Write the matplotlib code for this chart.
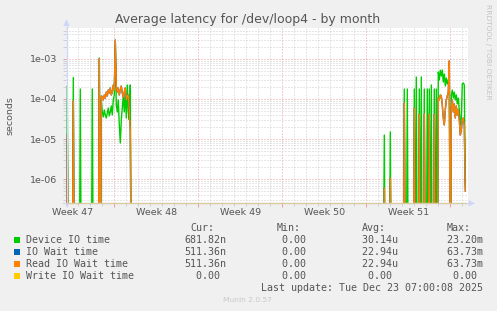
import numpy as np
import matplotlib
matplotlib.use('Agg')
import matplotlib.pyplot as plt
from matplotlib.patches import Polygon
from matplotlib.lines import Line2D
from matplotlib.transforms import blended_transform_factory
from matplotlib.ticker import FixedLocator, NullFormatter

W, H = 497, 311

# time axis: hours since Mon 2025-11-17 00:00 (start of ISO week 47), 2h samples
x_range = (71.4, 875.4)
week_starts = [168, 336, 504, 672, 840]
week_labels = ['Week 47', 'Week 48', 'Week 49', 'Week 50', 'Week 51']
week_label_hours = [84, 252, 420, 588, 756]

# isolated spikes (sample hour, device io time [s], read io wait [s])
spike_hours = [74, 86, 100, 124, 138, 708, 720, 748, 754, 768, 772, 778, 782,
               788, 794, 798, 802, 808, 812]
spike_device = [2.1e-4, 3.4e-4, 1.76e-4, 1.76e-4, 1.04e-3, 1.26e-5, 1.5e-5,
                1.76e-4, 1.76e-4, 1.76e-4, 3.5e-4, 1.76e-4, 3.5e-4, 1.76e-4,
                1.76e-4, 1.76e-4, 2.22e-4, 1.76e-4, 1.76e-4]
spike_read = [1.3e-5, 8.9e-5, 0, 0, 1.0e-3, 6.1e-7, 1.08e-6, 7.9e-5, 0,
              5.9e-5, 0, 4.2e-5, 0, 4.2e-5, 0, 4.2e-5, 0, 4.2e-5, 0]

# continuous block in week 47/48
left_start = 142
device_left = [9.4e-5, 4.72e-5, 3.55e-5, 5.3e-5, 3.97e-5, 3.35e-5, 4.46e-5,
               5.94e-5, 3.76e-5, 4.72e-5, 6.65e-5, 3.97e-5, 9.4e-5, 1.25e-4,
               2.2e-3, 7.05e-5, 4.72e-5, 9.4e-5, 2.24e-5, 8.0e-6, 2.99e-5,
               5.94e-5, 1.25e-4, 4.72e-5, 1.66e-4, 3.35e-5, 2.22e-4, 4.72e-5,
               2.99e-5, 2.22e-4]
read_left = [1.18e-4, 1.11e-4, 9.4e-5, 1.25e-4, 1.05e-4, 1.48e-4, 1.18e-4,
             1.66e-4, 1.40e-4, 1.87e-4, 1.25e-4, 1.48e-4, 2.22e-4, 1.66e-4,
             2.92e-3, 2.09e-4, 1.48e-4, 1.87e-4, 1.25e-4, 1.66e-4, 2.09e-4,
             1.40e-4, 1.11e-4, 1.48e-4, 1.87e-4, 9.4e-5, 1.18e-4, 1.25e-4,
             5.3e-5, 1.59e-5]

# continuous block in week 51/52 (runs to the last update)
right_start = 816
device_right = [4.67e-4, 2.95e-4, 5.2e-4, 3.71e-4, 5.2e-4, 2.63e-4, 4.16e-4,
                2.09e-4, 3.31e-4, 2.35e-4, 2.95e-4, 3.71e-4, 0, 1.25e-4,
                1.66e-4, 1.05e-4, 1.48e-4, 9.4e-5, 1.25e-4, 7.5e-5, 1.05e-4,
                5.3e-5, 2.24e-5, 3.35e-5, 2.35e-4, 2.49e-4, 2.22e-4, 6.8182e-7]
read_right = [1.05e-4, 9.4e-5, 1.25e-4, 1.18e-4, 7.05e-5, 3.35e-5, 2.24e-5,
              5.3e-5, 9.4e-5, 1.18e-4, 1.48e-4, 8.8e-4, 0, 5.94e-5, 9.4e-5,
              4.72e-5, 7.5e-5, 3.35e-5, 6.65e-5, 3.97e-5, 5.3e-5, 2.99e-5,
              1.26e-5, 1.68e-5, 2.99e-5, 3.35e-5, 2.24e-5, 5.1136e-7]

legend_names = ['Device IO time', 'IO Wait time', 'Read IO Wait time', 'Write IO Wait time']
legend_colors = ['#00CC00', '#0066B3', '#FF8000', '#FFCC00']
cur_vals = ['681.82n', '511.36n', '511.36n', '  0.00 ']
min_vals = ['  0.00 ', '  0.00 ', '  0.00 ', '  0.00 ']
avg_vals = [' 30.14u', ' 22.94u', ' 22.94u', '  0.00 ']
max_vals = [' 23.20m', ' 63.73m', ' 63.73m', '  0.00 ']

y_ticks = [1e-6, 1e-5, 1e-4, 1e-3]
y_ticklabels = ['1e-06', '1e-05', '1e-04', '1e-03']
y_range = (2.57e-7, 5.8e-3)

# ---- assemble the samples (zeros around the bursts)
pts = {}
for h in spike_hours:
    pts.setdefault(h - 2, (0, 0))
    pts.setdefault(h + 2, (0, 0))
pts.setdefault(left_start - 2, (0, 0))
pts.setdefault(left_start + 2 * len(device_left), (0, 0))
pts.setdefault(right_start - 2, (0, 0))
for h, d, r in zip(spike_hours, spike_device, spike_read):
    pts[h] = (d, r)
for i, (d, r) in enumerate(zip(device_left, read_left)):
    pts[left_start + 2 * i] = (d, r)
for i, (d, r) in enumerate(zip(device_right, read_right)):
    pts[right_start + 2 * i] = (d, r)

t = np.array(sorted(pts))
device = np.array([pts[h][0] for h in t])
read = np.array([pts[h][1] for h in t])
io_wait = read.copy()
floor = 1e-9
clip = lambda v: np.where(v > 0, v, floor)


def fx(x):
    return x / W


def fy(y):
    return 1 - y / H


fig = plt.figure(figsize=(W / 100, H / 100), dpi=100, facecolor='#F0F0F0')
ax = fig.add_axes([fx(66), fy(203), (468 - 66) / W, (203 - 28) / H])
ax.set_facecolor('white')
ax.set_yscale('log')
ax.set_xlim(*x_range)
ax.set_ylim(*y_range)
for s in ax.spines.values():
    s.set_visible(False)

grid_minor = '#cfcfcf'
grid_major = '#eb9a9a'
dash = (0, (1, 2))
for h in range(72, 876, 24):
    if h not in week_starts:
        ax.axvline(h, color=grid_minor, lw=0.72, ls=dash, zorder=1)
for h in week_starts:
    ax.axvline(h, color=grid_major, lw=0.72, ls=dash, zorder=1)
minor_y = [k * 10.0 ** e for e in range(-7, -2) for k in range(2, 10)]
minor_y = [v for v in minor_y if y_range[0] < v < y_range[1]]
for v in minor_y:
    ax.axhline(v, color=grid_minor, lw=0.72, ls=dash, zorder=1)
for v in y_ticks:
    ax.axhline(v, color=grid_major, lw=0.72, ls=dash, zorder=1)

ax.plot(t, clip(device), color=legend_colors[0], lw=1.0, zorder=3)
ax.plot(t, clip(io_wait), color=legend_colors[1], lw=1.0, zorder=4)
ax.plot(t, clip(read), color=legend_colors[2], lw=1.0, zorder=5)

# ticks
ax.yaxis.set_major_locator(FixedLocator(y_ticks))
ax.set_yticklabels(y_ticklabels)
ax.yaxis.set_minor_locator(FixedLocator(minor_y))
ax.yaxis.set_minor_formatter(NullFormatter())
ax.tick_params(axis='y', which='major', length=2, width=0.7, color=grid_major,
               labelsize=6.8, labelcolor='#555555', pad=4)
ax.tick_params(axis='y', which='minor', length=2, width=0.7, color=grid_minor)
ax.xaxis.set_major_locator(FixedLocator(week_starts))
ax.xaxis.set_minor_locator(FixedLocator(list(range(72, 876, 24))))
ax.xaxis.set_major_formatter(NullFormatter())
ax.tick_params(axis='x', which='major', length=3, width=0.7, color=grid_major)
ax.tick_params(axis='x', which='minor', length=2, width=0.7, color=grid_minor)

trans = blended_transform_factory(ax.transData, ax.transAxes)
for h, lab in zip(week_label_hours, week_labels):
    ax.text(h, -0.056, lab, transform=trans, ha='center', va='center',
            fontsize=6.8, color='#555555')

# axes with arrows
axis_col = '#CFD6F8'
fig.add_artist(Line2D([fx(66.5), fx(66.5)], [fy(206), fy(24)], color=axis_col, lw=0.9))
fig.add_artist(Line2D([fx(63), fx(470)], [fy(203.3), fy(203.3)], color=axis_col, lw=0.9))
fig.add_artist(Line2D([fx(66.5), fx(466)], [fy(203.3), fy(203.3)], color='#d9cc98', lw=0.9))
fig.add_artist(Polygon([(fx(63.5), fy(26)), (fx(69.5), fy(26)), (fx(66.5), fy(19))],
                       closed=True, color=axis_col, lw=0))
fig.add_artist(Polygon([(fx(468.5), fy(200)), (fx(468.5), fy(206.5)), (fx(475), fy(203.3))],
                       closed=True, color=axis_col, lw=0))

fig.text(fx(247.7), fy(19.3), 'Average latency for /dev/loop4 - by month',
         ha='center', va='center', fontsize=9, color='#555555')
fig.text(fx(10), fy(115.5), 'seconds', rotation=90, ha='center', va='center',
         fontsize=6.8, color='#555555')
fig.text(fx(488), fy(4), 'RRDTOOL / TOBI OETIKER', rotation=270, ha='center',
         va='top', fontsize=5.4, color='#c4c4c4')

# legend
mono = 'DejaVu Sans Mono'
fs = 7.2
tc = '#555555'
col_x = [184.3, 270.3, 355.7, 440.7]
headers = ['Cur:', 'Min:', 'Avg:', 'Max:']
for x, hd in zip(col_x, headers):
    fig.text(fx(x + 6), fy(227.7), hd, family=mono, fontsize=fs, color=tc,
             ha='left', va='center')
row_y = [239.7, 251.7, 263.7, 275.7]
for i, y in enumerate(row_y):
    fig.add_artist(Polygon([(fx(14), fy(y - 3)), (fx(20), fy(y - 3)),
                            (fx(20), fy(y + 3)), (fx(14), fy(y + 3))],
                           closed=True, color=legend_colors[i], lw=0))
    fig.text(fx(25.5), fy(y), legend_names[i], family=mono, fontsize=fs,
             color=tc, ha='left', va='center')
    for x, vals in zip(col_x, [cur_vals, min_vals, avg_vals, max_vals]):
        fig.text(fx(x), fy(y), vals[i], family=mono, fontsize=fs, color=tc,
                 ha='left', va='center')
fig.text(fx(483), fy(287.7), 'Last update: Tue Dec 23 07:00:08 2025',
         family=mono, fontsize=fs, color=tc, ha='right', va='center')
fig.text(fx(247.7), fy(300), 'Munin 2.0.57', fontsize=5.4, color='#c8c8c8',
         ha='center', va='center')

fig.savefig('out.png', dpi=100, facecolor=fig.get_facecolor())
